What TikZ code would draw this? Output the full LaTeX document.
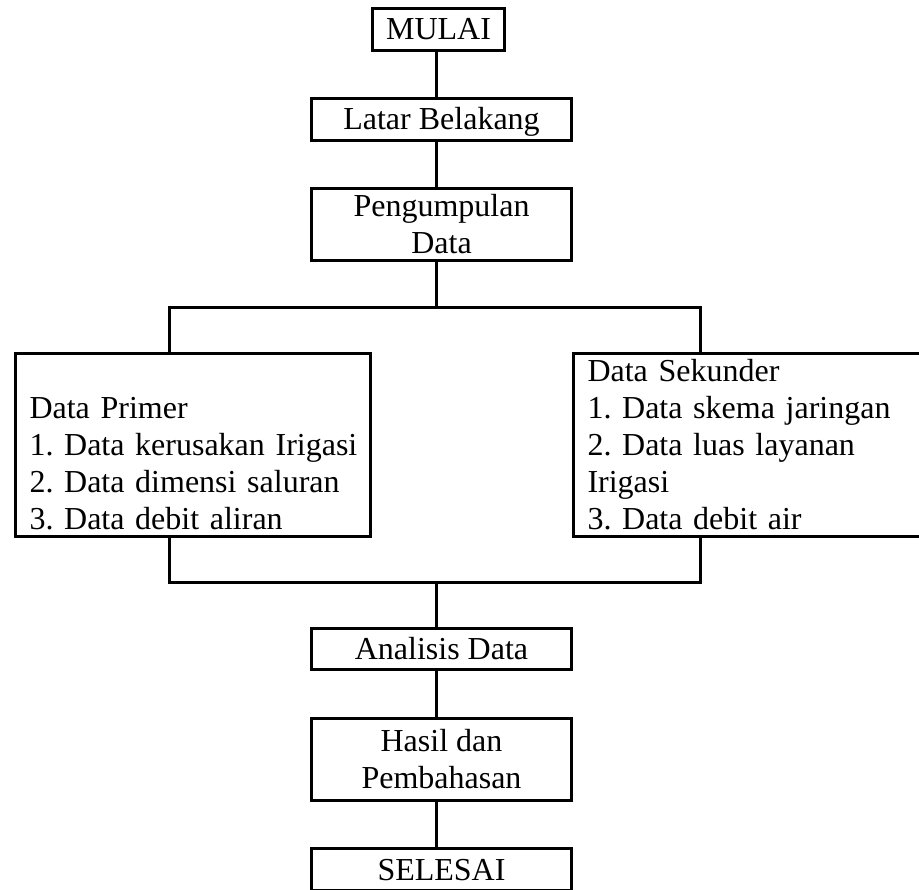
\documentclass[tikz,border=0pt]{standalone}
\usepackage{fontspec}
\setmainfont{Liberation Serif}
\frenchspacing
\hyphenpenalty=10000
\exhyphenpenalty=10000
\begin{document}
\begin{tikzpicture}[x=1pt,y=-1pt,
  every node/.style={font=\fontsize{32}{37}\selectfont},
  box/.style={draw, line width=3pt, inner sep=0pt, align=center},
  onebox/.style={box, minimum width=260pt, minimum height=42pt, text height=21pt, text depth=0pt},
  twobox/.style={box, minimum width=260pt},
  listbox/.style={box, align=left, text width=327pt, inner xsep=14pt, inner ysep=0pt,
     minimum width=355pt, minimum height=183pt, text height=22pt, text depth=148pt},
  conn/.style={line width=3pt}]
\useasboundingbox (0,0) rectangle (919,890);
\clip (0,0) rectangle (919,890);

\node[onebox, minimum width=132pt] (mulai) at (438.5,29.5) {MULAI};
\node[onebox] (latar) at (441.5,119.5) {Latar Belakang};
\node[twobox, minimum height=72pt] (kumpul) at (441.5,224.5) {Pengumpulan\\Data};
\node[listbox] (primer) at (193,445) {\mbox{}\\Data Primer\\\mbox{1. Data kerusakan Irigasi}\\\mbox{2. Data dimensi saluran}\\3. Data debit aliran};
\node[listbox] (sekunder) at (751,445) {Data Sekunder\\\mbox{1. Data skema jaringan}\\2. Data luas layanan\\Irigasi\\3. Data debit air};
\node[onebox, minimum height=41pt] (analisis) at (441.5,649) {Analisis Data};
\node[twobox, minimum height=82pt] (hasil) at (441.5,759.5) {Hasil dan\\Pembahasan};
\node[onebox] (selesai) at (441.5,869.5) {SELESAI};

\coordinate (T) at (436,0);
\coordinate (L) at (169.5,0);
\coordinate (R) at (700,0);
\coordinate (top) at (436,307.5);
\coordinate (bot) at (436,582);

\draw[conn] (mulai.south -| T) -- (latar.north -| T);
\draw[conn] (latar.south -| T) -- (kumpul.north -| T);
\draw[conn] (kumpul.south -| T) -- (top);
\draw[conn] (primer.north -| L) -- (L |- top) -- (R |- top) -- (sekunder.north -| R);
\draw[conn] (primer.south -| L) -- (L |- bot) -- (R |- bot) -- (sekunder.south -| R);
\draw[conn] (bot) -- (analisis.north -| T);
\draw[conn] (analisis.south -| T) -- (hasil.north -| T);
\draw[conn] (hasil.south -| T) -- (selesai.north -| T);
\end{tikzpicture}
\end{document}
